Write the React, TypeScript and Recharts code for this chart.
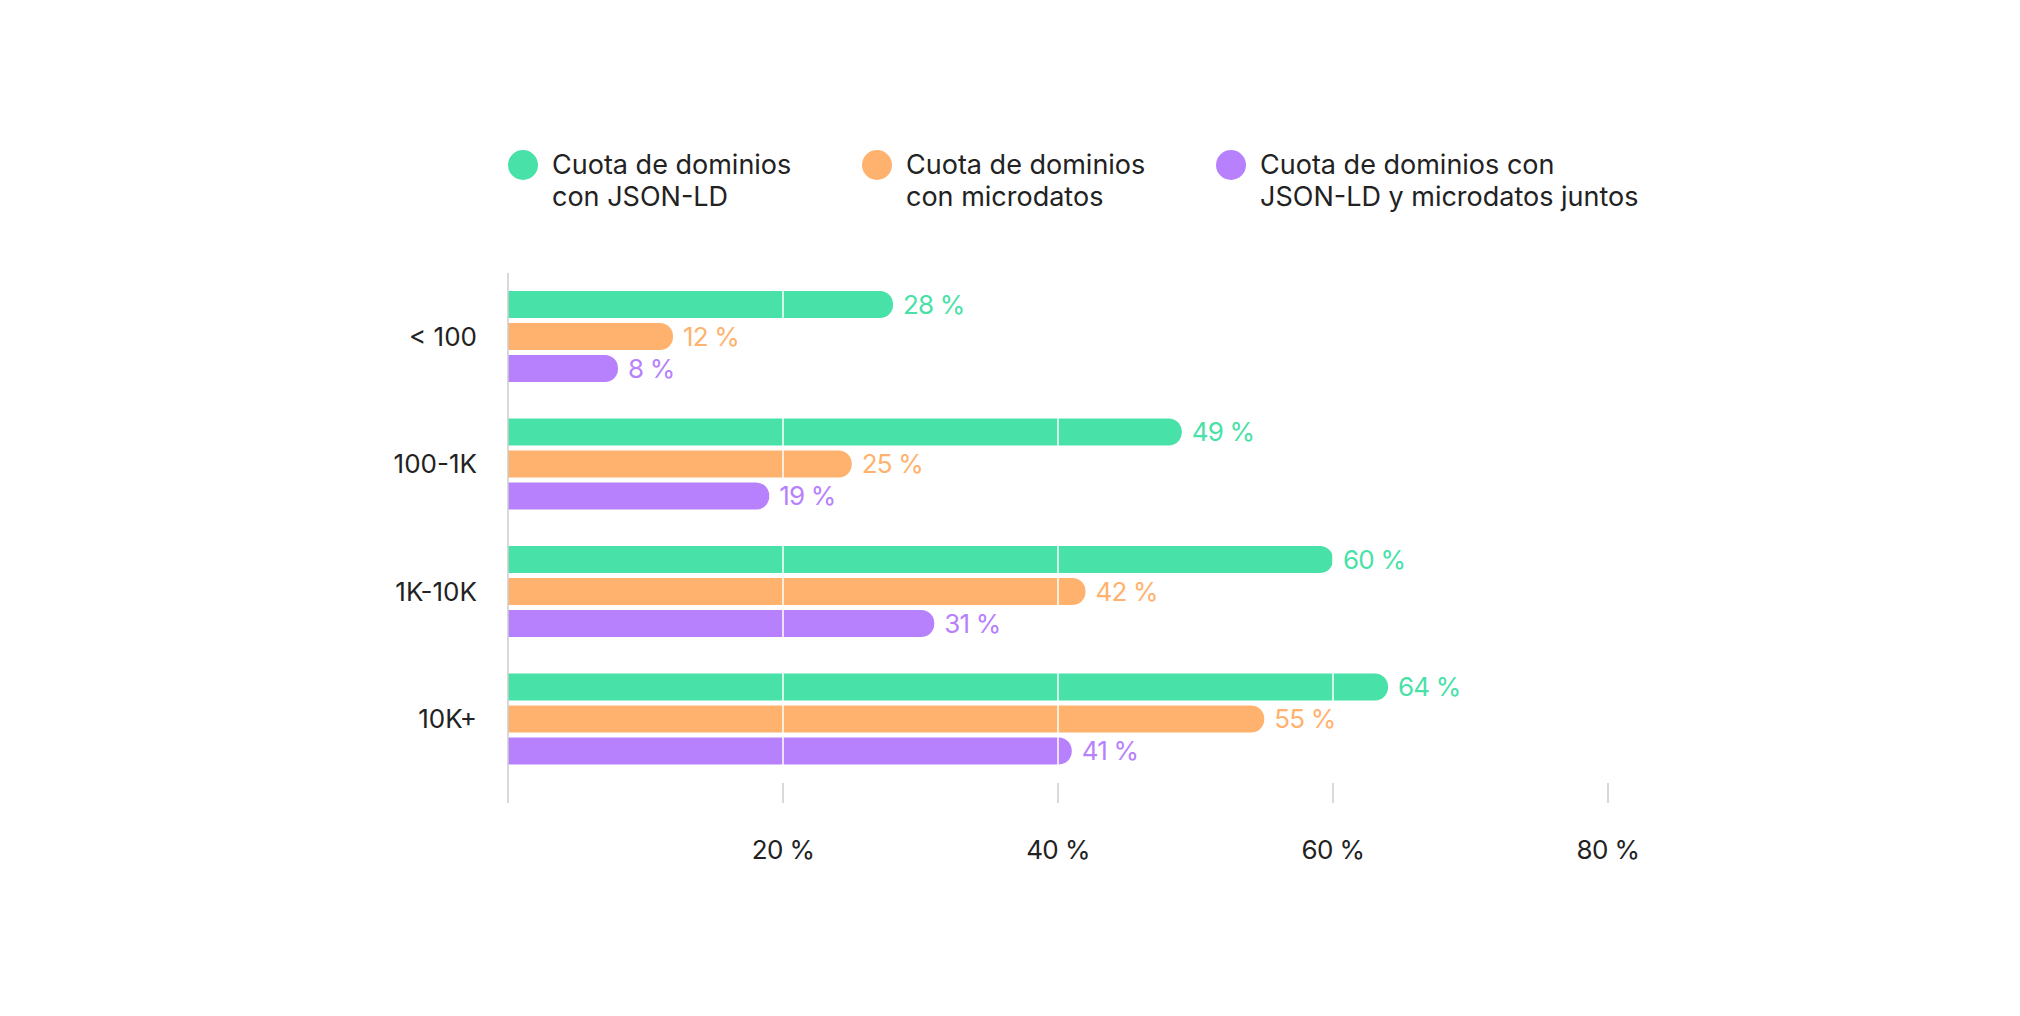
import { BarChart, Bar, XAxis, YAxis, LabelList, ReferenceLine } from 'recharts';

const categories = ['< 100', '100-1K', '1K-10K', '10K+'];
const jsonLd = [28, 49, 60, 64];
const microdatos = [12, 25, 42, 55];
const ambos = [8, 19, 31, 41];
const xTicks = [0, 20, 40, 60, 80];

const series = [
  { key: 'jsonLd', label: ['Cuota de dominios', 'con JSON-LD'], color: '#48E1A8' },
  { key: 'microdatos', label: ['Cuota de dominios', 'con microdatos'], color: '#FFB26E' },
  { key: 'ambos', label: ['Cuota de dominios con', 'JSON-LD y microdatos juntos'], color: '#B781FE' },
];

const data = categories.map((name, i) => ({
  name,
  jsonLd: jsonLd[i],
  microdatos: microdatos[i],
  ambos: ambos[i],
}));

const font = 'Inter, "Noto Sans", sans-serif';

export default function App() {
  return (
    <div style={{ position: 'absolute', left: 0, top: 0, width: 2020, height: 1016, background: '#fff', fontFamily: font }}>
      {/* legend */}
      {series.map((s, i) => (
        <div key={s.key} style={{ position: 'absolute', left: 508 + i * 354, top: 149, display: 'flex', alignItems: 'flex-start' }}>
          <div style={{ width: 30, height: 30, borderRadius: 15, background: s.color, marginTop: 1 }} />
          <div style={{ marginLeft: 14, fontSize: 27, lineHeight: '32px', color: '#222' }}>
            {s.label[0]}
            <br />
            {s.label[1]}
          </div>
        </div>
      ))}
      <BarChart
        width={2020}
        height={1016}
        data={data}
        layout="vertical"
        barSize={27}
        barGap={5}
        margin={{ top: 273, right: 412, bottom: 173, left: 308 }}
        style={{ position: 'absolute', left: 0, top: 0 }}
      >
        <XAxis
          type="number"
          domain={[0, 80]}
          ticks={xTicks}
          axisLine={false}
          tickSize={20}
          tickMargin={38}
          height={60}
          tickLine={{ stroke: '#cccccc', strokeWidth: 1.5 }}
          tickFormatter={(v: number) => (v === 0 ? '' : `${v} %`)}
          tick={{ fill: '#222', fontSize: 26, fontFamily: font, letterSpacing: -0.6 }}
        />
        <YAxis
          type="category"
          dataKey="name"
          width={200}
          tickLine={false}
          tickSize={0}
          tickMargin={31}
          axisLine={{ stroke: '#cccccc', strokeWidth: 1.5 }}
          tick={{ fill: '#222', fontSize: 26, fontFamily: font }}
        />
        {series.map((s) => (
          <Bar key={s.key} dataKey={s.key} fill={s.color} radius={[0, 13, 13, 0]} isAnimationActive={false}>
            <LabelList
              dataKey={s.key}
              position="right"
              offset={10}
              fill={s.color}
              fontSize={26}
              fontFamily={font}
              letterSpacing={-0.8}
              formatter={(v: number) => `${v} %`}
            />
          </Bar>
        ))}
        {[20, 40, 60].map((x) => (
          <ReferenceLine key={x} x={x} stroke="#ffffff" strokeWidth={1.5} />
        ))}
      </BarChart>
    </div>
  );
}
